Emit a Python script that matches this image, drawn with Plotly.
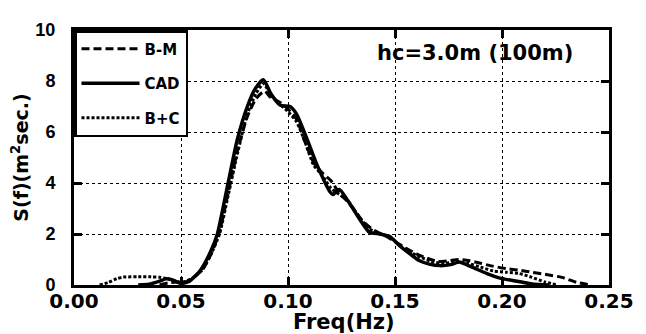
import plotly.graph_objects as go

# B-M (dashed)
bm_f = [0.040, 0.044, 0.048, 0.052, 0.056, 0.060, 0.064, 0.068, 0.072, 0.0765, 0.081, 0.085, 0.089,
        0.092, 0.0965, 0.100, 0.104, 0.108, 0.112, 0.116, 0.120, 0.124, 0.1275, 0.131, 0.135, 0.140,
        0.145, 0.150, 0.155, 0.160, 0.165, 0.170, 0.175, 0.180, 0.185, 0.190, 0.195, 0.202, 0.208,
        0.214, 0.220, 0.228, 0.235, 0.242]
bm_s = [0.0, 0.08, 0.12, 0.12, 0.3, 0.6, 1.2, 2.1, 3.6, 5.3, 6.6, 7.3, 7.6,
        7.35, 7.15, 6.9, 6.5, 5.6, 4.8, 4.4, 4.1, 3.6, 3.3, 2.95, 2.5, 2.15,
        1.95, 1.7, 1.45, 1.22, 1.05, 0.92, 0.95, 1.0, 0.95, 0.85, 0.75, 0.64, 0.58,
        0.5, 0.42, 0.3, 0.1, 0.0]

# CAD (solid)
cad_f = [0.030, 0.035, 0.040, 0.043, 0.046, 0.050, 0.054, 0.059, 0.0638, 0.067, 0.072, 0.0763, 0.081,
         0.0847, 0.0885, 0.092, 0.0964, 0.101, 0.104, 0.109, 0.1136, 0.1196, 0.121, 0.124, 0.128,
         0.1336, 0.138, 0.143, 0.1476, 0.152, 0.157, 0.1615, 0.166, 0.171, 0.176, 0.180, 0.186,
         0.193, 0.200, 0.207, 0.214, 0.222]
cad_s = [0.0, 0.03, 0.15, 0.24, 0.2, 0.06, 0.15, 0.57, 1.3, 2.0, 4.0, 5.7, 7.0,
         7.7, 8.05, 7.5, 7.05, 7.0, 6.7, 5.7, 4.7, 3.66, 3.55, 3.75, 3.3,
         2.57, 2.07, 2.0, 1.9, 1.55, 1.22, 0.95, 0.82, 0.76, 0.8, 0.9, 0.7,
         0.45, 0.25, 0.15, 0.04, 0.0]

# B+C (dotted)
bc_f = [0.012, 0.016, 0.020, 0.023, 0.030, 0.036, 0.040, 0.045, 0.050, 0.055, 0.060, 0.064, 0.068,
        0.072, 0.0765, 0.081, 0.085, 0.0885, 0.092, 0.096, 0.100, 0.104, 0.108, 0.112, 0.116, 0.120,
        0.124, 0.128, 0.133, 0.138, 0.143, 0.148, 0.153, 0.158, 0.163, 0.168, 0.173, 0.178, 0.184,
        0.190, 0.196, 0.202, 0.208, 0.214, 0.220, 0.226]
bc_s = [0.0, 0.1, 0.25, 0.31, 0.32, 0.32, 0.3, 0.22, 0.1, 0.25, 0.6, 1.2, 2.0,
        3.5, 5.2, 6.7, 7.5, 7.9, 7.45, 7.1, 6.8, 6.4, 5.6, 4.7, 4.3, 3.8,
        3.55, 3.3, 2.7, 2.2, 2.0, 1.85, 1.5, 1.25, 1.05, 0.9, 0.85, 0.9, 0.85,
        0.7, 0.55, 0.5, 0.45, 0.3, 0.12, 0.0]

x_ticks = [0.00, 0.05, 0.10, 0.15, 0.20, 0.25]
x_tick_labels = ["0.00", "0.05", "0.10", "0.15", "0.20", "0.25"]
y_ticks = [0, 2, 4, 6, 8, 10]

WIDE = "DejaVu Sans"
NARROW = "Liberation Sans"

fig = go.Figure()
fig.add_trace(go.Scatter(x=bm_f, y=bm_s, mode="lines", name="B-M", legendgroup="a",
                         line=dict(color="black", width=3, dash="8px,4px", shape="spline", smoothing=0.6)))
fig.add_trace(go.Scatter(x=cad_f, y=cad_s, mode="lines", name="CAD", legendgroup="b",
                         line=dict(color="black", width=3.5, shape="spline", smoothing=0.6)))
fig.add_trace(go.Scatter(x=bc_f, y=bc_s, mode="lines", name="B+C", legendgroup="c",
                         line=dict(color="black", width=3, dash="3px,2px", shape="spline", smoothing=0.6)))

axis_common = dict(
    showline=True, linecolor="black", linewidth=3, mirror="ticks",
    ticks="inside", ticklen=8, tickwidth=2.5, tickcolor="black",
    showgrid=True, gridcolor="black", gridwidth=1, griddash="dot",
    zeroline=False,
)

fig.update_xaxes(range=[0, 0.25], tickvals=x_ticks, ticktext=x_tick_labels,
                 ticklabelstandoff=-4,
                 tickfont=dict(family=WIDE, size=20, color="black", weight="bold"),
                 **axis_common)
fig.update_yaxes(range=[0, 10], tickvals=y_ticks, ticklabelstandoff=12,
                 tickfont=dict(family=NARROW, size=18, color="black", weight="bold"),
                 title=dict(text="S(f)(m<sup>2</sup>sec.)", standoff=2,
                            font=dict(family=WIDE, size=19, color="black", weight="bold")),
                 **axis_common)

# x-axis title
fig.add_annotation(text="Freq(Hz)", xref="paper", yref="paper", x=0.505, y=-0.147,
                   xanchor="center", yanchor="middle", showarrow=False,
                   font=dict(family=WIDE, size=21, color="black", weight="bold"))

fig.add_annotation(text="hc=3.0m (100m)", xref="paper", yref="paper", x=0.749, y=0.965,
                   xanchor="center", yanchor="top", showarrow=False,
                   font=dict(family=WIDE, size=21, color="black", weight="bold"))

# page body has an 8px margin, so the figure is 8px smaller and shifted
fig.update_layout(
    width=638, height=326,
    margin=dict(l=65, r=36, t=12, b=49),
    plot_bgcolor="white", paper_bgcolor="white",
    showlegend=True,
    legend=dict(x=0, y=1, xanchor="left", yanchor="top",
                bgcolor="white", bordercolor="black", borderwidth=2.5,
                font=dict(family=WIDE, size=15, color="black", weight="bold"),
                tracegroupgap=12, itemwidth=58),
)

fig.write_html("out.html")
